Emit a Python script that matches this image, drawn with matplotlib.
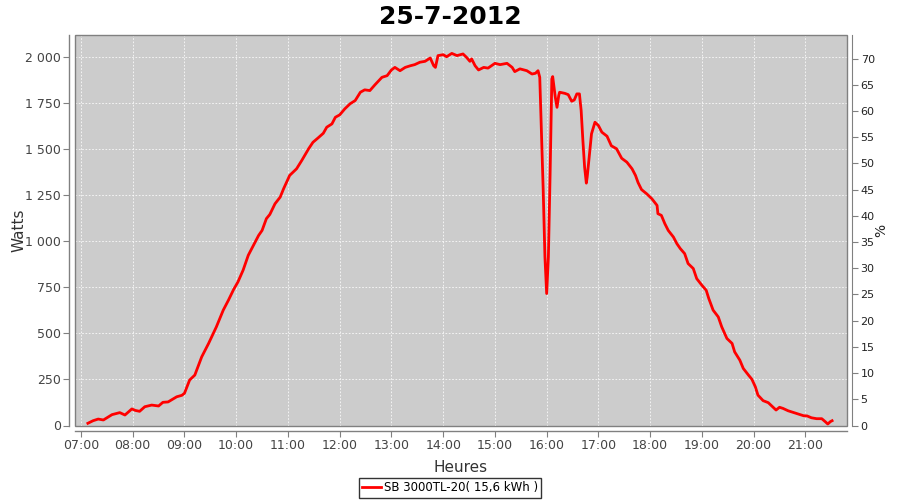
import matplotlib

matplotlib.use("Agg")
import matplotlib.pyplot as plt
from matplotlib.patches import Rectangle
from matplotlib.ticker import FuncFormatter, MultipleLocator

plt.rcParams["font.family"] = ["DejaVu Sans"]

TITLE = "25-7-2012"
SERIES_LABEL = "SB 3000TL-20( 15,6 kWh )"

# Relevés (heure, puissance en W)
TIMES = [
    "07:08", "07:14", "07:20", "07:26", "07:36", "07:45", "07:51", "07:59", "08:03", "08:08",
    "08:14", "08:22", "08:30", "08:35", "08:41", "08:51", "08:57", "09:00", "09:06", "09:12",
    "09:20", "09:28", "09:37", "09:45", "09:51", "09:57", "10:02", "10:08", "10:14", "10:20",
    "10:26", "10:30", "10:35", "10:39", "10:45", "10:51", "10:55", "11:02", "11:10", "11:16",
    "11:24", "11:29", "11:35", "11:41", "11:45", "11:51", "11:55", "12:00", "12:06", "12:12",
    "12:18", "12:24", "12:29", "12:35", "12:41", "12:49", "12:55", "13:00", "13:04", "13:10",
    "13:16", "13:22", "13:27", "13:33", "13:39", "13:45", "13:49", "13:51", "13:54", "14:00",
    "14:04", "14:10", "14:16", "14:23", "14:27", "14:31", "14:33", "14:37", "14:41", "14:47",
    "14:52", "15:00", "15:06", "15:14", "15:20", "15:23", "15:29", "15:37", "15:43", "15:47",
    "15:50", "15:52", "15:54", "15:56", "15:58", "16:00", "16:02", "16:04", "16:06", "16:07",
    "16:10", "16:12", "16:14", "16:15", "16:21", "16:25", "16:29", "16:32", "16:35", "16:38",
    "16:40", "16:42", "16:44", "16:46", "16:47", "16:50", "16:52", "16:56", "17:00", "17:04",
    "17:10", "17:15", "17:21", "17:27", "17:33", "17:39", "17:43", "17:46", "17:50", "17:56",
    "18:02", "18:08", "18:09", "18:13", "18:17", "18:21", "18:27", "18:31", "18:35", "18:40",
    "18:44", "18:50", "18:54", "19:00", "19:05", "19:08", "19:13", "19:19", "19:23", "19:29",
    "19:35", "19:38", "19:44", "19:48", "19:54", "19:58", "20:02", "20:05", "20:11", "20:17",
    "20:21", "20:26", "20:30", "20:34", "20:40", "20:46", "20:52", "20:58", "21:02", "21:07",
    "21:13", "21:19", "21:23", "21:26", "21:29", "21:31",
]
WATTS = [
    12, 26, 35, 30, 59, 70, 57, 90, 82, 77,
    102, 111, 106, 126, 128, 156, 164, 175, 247, 274,
    373, 446, 536, 627, 681, 739, 780, 844, 925, 979,
    1033, 1060, 1124, 1147, 1205, 1241, 1287, 1359, 1395, 1440,
    1504, 1539, 1563, 1588, 1621, 1639, 1675, 1688, 1721, 1748,
    1766, 1811, 1824, 1820, 1852, 1892, 1901, 1932, 1946, 1928,
    1946, 1955, 1961, 1974, 1979, 1997, 1955, 1946, 2010, 2015,
    2004, 2022, 2010, 2019, 2001, 1979, 1992, 1955, 1932, 1946,
    1942, 1968, 1961, 1968, 1946, 1923, 1938, 1928, 1910, 1914,
    1928, 1892, 1585, 1277, 916, 717, 916, 1368, 1883, 1896,
    1784, 1729, 1793, 1811, 1805, 1798, 1762, 1769, 1802, 1802,
    1711, 1549, 1404, 1317, 1350, 1494, 1585, 1648, 1630, 1594,
    1572, 1520, 1504, 1452, 1431, 1395, 1359, 1320, 1282, 1259,
    1232, 1196, 1151, 1142, 1097, 1060, 1024, 988, 961, 934,
    880, 853, 798, 762, 735, 690, 627, 590, 536, 473,
    446, 400, 355, 310, 274, 251, 210, 165, 135, 124,
    106, 84, 99, 93, 80, 71, 62, 53, 52, 42,
    37, 37, 21, 8, 21, 26,
]

HOUR_TICKS = list(range(7, 22))

PLOT_BG = "#CCCCCC"
AXIS_GREY = "#808080"
LABEL_GREY = "#444444"


def to_hours(stamp: str) -> float:
    h, m = stamp.split(":")
    return int(h) + int(m) / 60.0


def fmt_watts(value, _pos):
    return f"{int(round(value)):,}".replace(",", " ")


def fmt_hour(value, _pos):
    return f"{int(round(value)):02d}:00"


fig = plt.figure(figsize=(9, 5), dpi=100)
ax = fig.add_axes([0.0833, 0.149, 0.8575, 0.781])
ax.set_facecolor(PLOT_BG)

hours = [to_hours(t) for t in TIMES]
ax.plot(hours, WATTS, color="#FF0000", linewidth=2.0, label=SERIES_LABEL, zorder=3)

ax.set_xlim(6.884, 21.799)
ax.set_ylim(0, 2122)
ax.set_xticks(HOUR_TICKS)
ax.xaxis.set_major_formatter(FuncFormatter(fmt_hour))
ax.yaxis.set_major_locator(MultipleLocator(250))
ax.yaxis.set_major_formatter(FuncFormatter(fmt_watts))
ax.grid(True, color="white", linestyle=(0, (2, 2)), linewidth=0.6, alpha=0.9)
ax.set_axisbelow(True)

for side in ("top", "right"):
    ax.spines[side].set_visible(False)
for side in ("left", "bottom"):
    ax.spines[side].set_position(("outward", 4))
    ax.spines[side].set_color(AXIS_GREY)
    ax.spines[side].set_linewidth(1.0)

ax.tick_params(axis="both", colors=AXIS_GREY, labelcolor=LABEL_GREY, labelsize=9, length=4,
               width=0.8, pad=2)
ax.set_xlabel("Heures", fontsize=11, color="#333333")
ax.set_ylabel("Watts", fontsize=11, color="#333333")
ax.xaxis.set_label_coords(0.5, -0.088)
ax.yaxis.set_label_coords(-0.063, 0.5)

# bordure de la zone de tracé
ax.add_patch(Rectangle((0, 0), 1, 1, transform=ax.transAxes, fill=False,
                       edgecolor=AXIS_GREY, linewidth=1.0, zorder=5, clip_on=False))

ax2 = ax.twinx()
ax2.set_ylim(0, 74.5)
ax2.yaxis.set_major_locator(MultipleLocator(5))
for side in ("top", "left", "bottom"):
    ax2.spines[side].set_visible(False)
ax2.spines["right"].set_position(("outward", 4))
ax2.spines["right"].set_color(AXIS_GREY)
ax2.tick_params(axis="y", colors=AXIS_GREY, labelcolor="#222222", labelsize=8, length=4,
                width=0.8, pad=2)
ax2.set_ylabel("%", fontsize=10, color="#222222", labelpad=0)

fig.suptitle(TITLE, fontsize=18, fontweight="bold", y=0.99)

leg = fig.legend(loc="center", bbox_to_anchor=(0.5, 1 - 488 / 500), fontsize=8.5,
                 frameon=True, fancybox=False, edgecolor="black", handlelength=1.6,
                 borderpad=0.3, handletextpad=0.2, borderaxespad=0)
leg.get_frame().set_linewidth(1.0)

fig.savefig("out.png", dpi=100, facecolor="white")
